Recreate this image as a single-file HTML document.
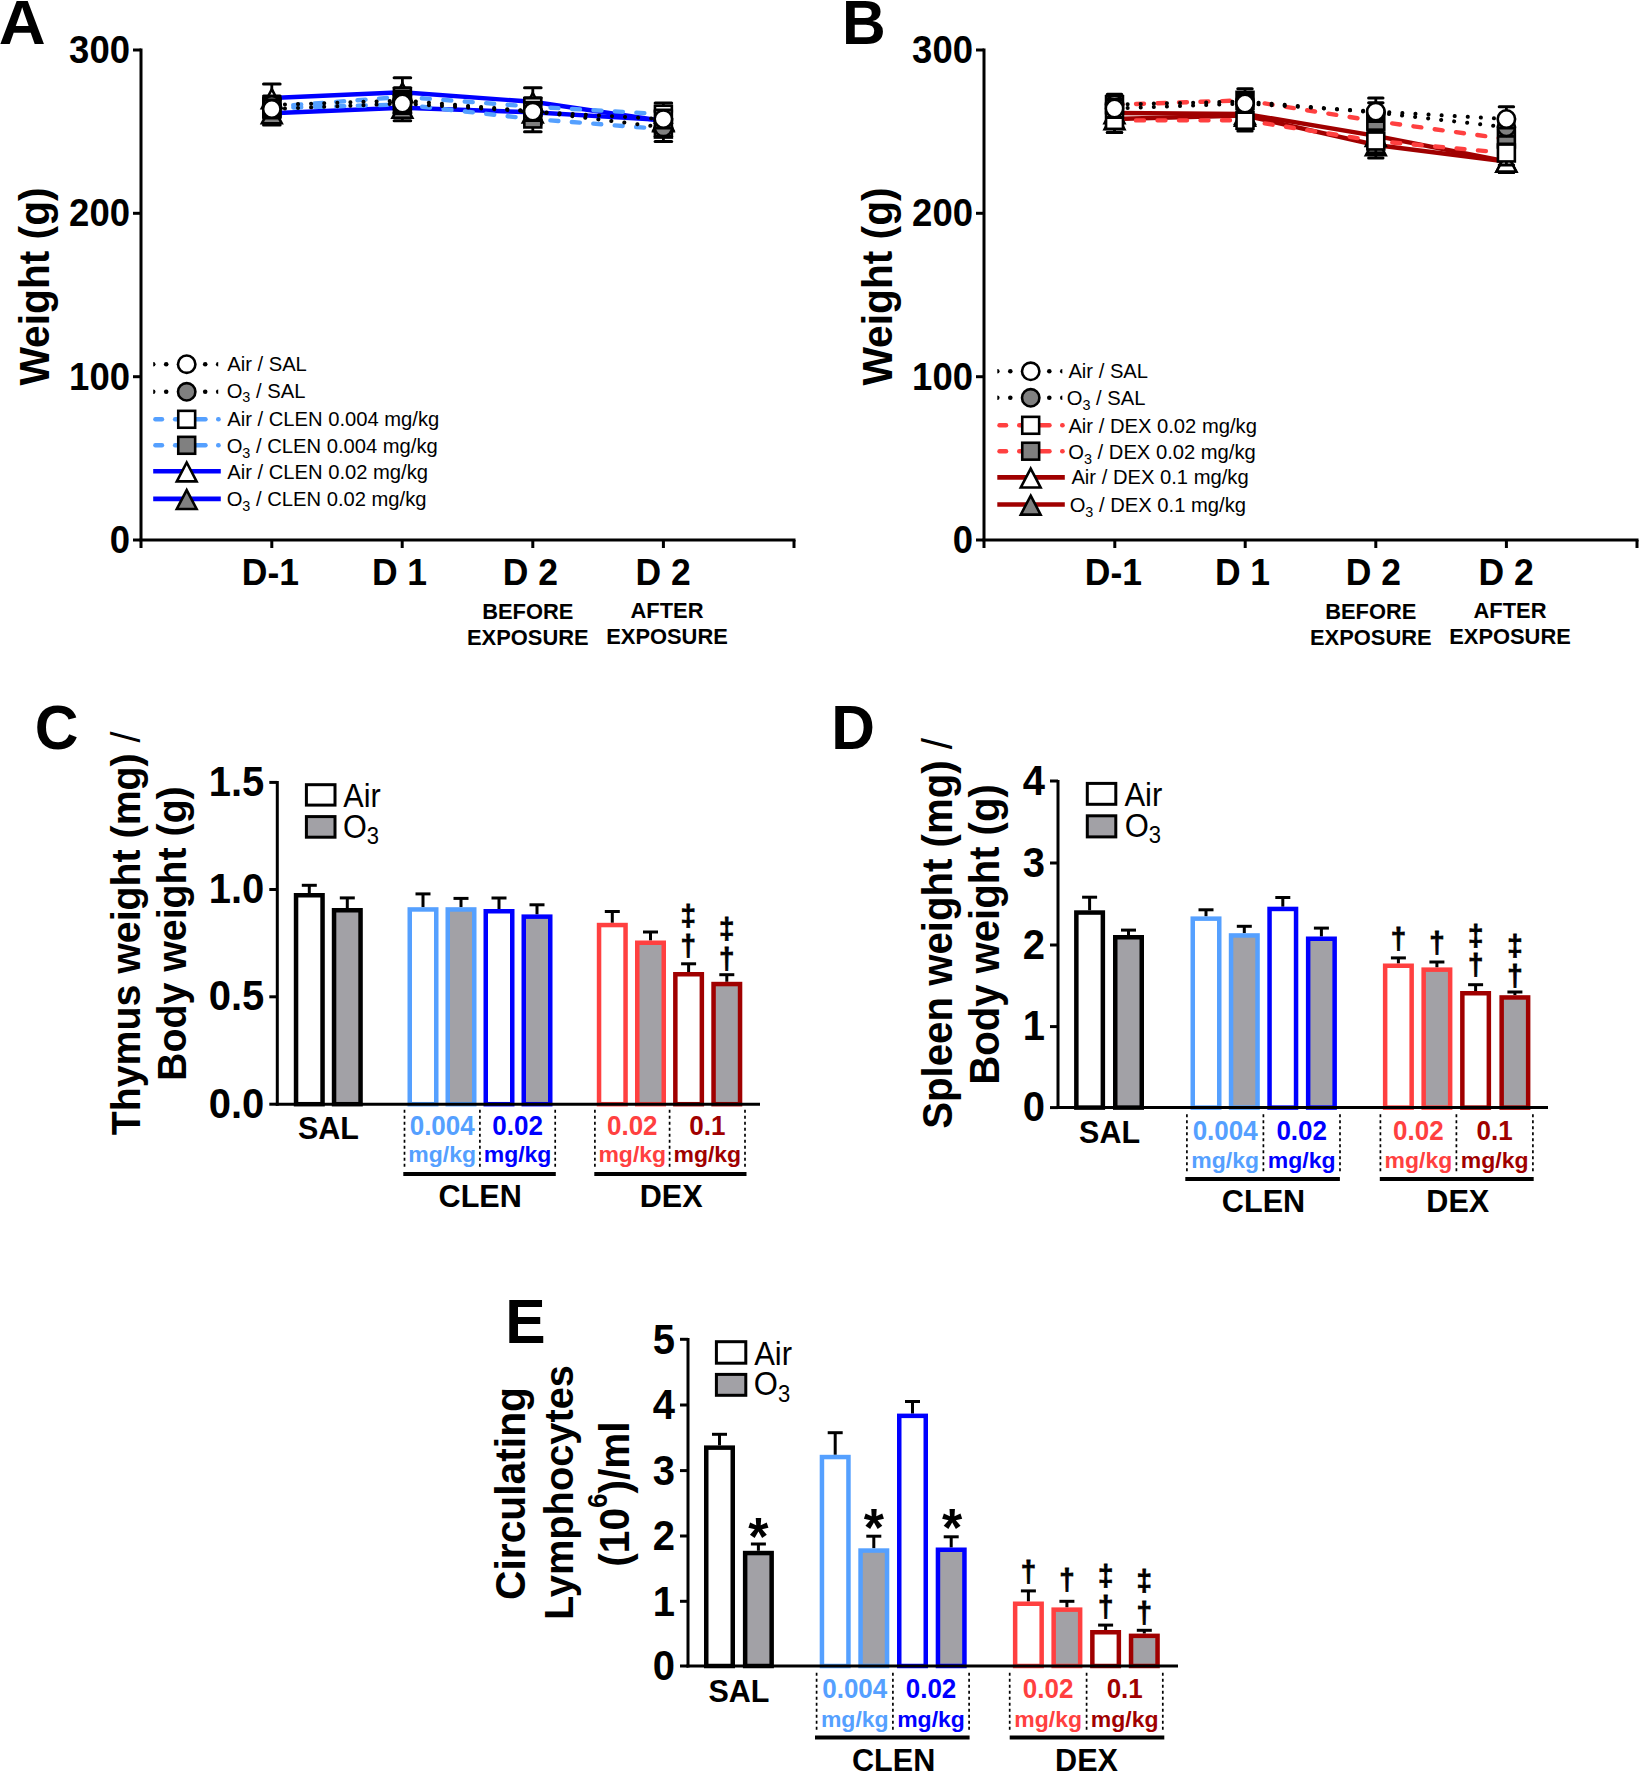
<!DOCTYPE html><html><head><meta charset="utf-8"><title>Figure</title><style>html,body{margin:0;padding:0;background:#fff;overflow:hidden}svg{display:block}text{font-family:"Liberation Sans",Arial,Helvetica,sans-serif}</style></head><body>
<svg width="1639" height="1773" viewBox="0 0 1639 1773">
<rect width="1639" height="1773" fill="#fff"/>
<line x1="141" y1="48.5" x2="141" y2="548" stroke="#000" stroke-width="3" />
<line x1="139.5" y1="540" x2="795.5" y2="540" stroke="#000" stroke-width="3" />
<line x1="133" y1="50" x2="141" y2="50" stroke="#000" stroke-width="3" />
<line x1="133" y1="213.3" x2="141" y2="213.3" stroke="#000" stroke-width="3" />
<line x1="133" y1="376.7" x2="141" y2="376.7" stroke="#000" stroke-width="3" />
<line x1="133" y1="540" x2="141" y2="540" stroke="#000" stroke-width="3" />
<line x1="271.8" y1="540" x2="271.8" y2="548" stroke="#000" stroke-width="3" />
<line x1="402.2" y1="540" x2="402.2" y2="548" stroke="#000" stroke-width="3" />
<line x1="532.8" y1="540" x2="532.8" y2="548" stroke="#000" stroke-width="3" />
<line x1="663.4" y1="540" x2="663.4" y2="548" stroke="#000" stroke-width="3" />
<line x1="794" y1="540" x2="794" y2="548" stroke="#000" stroke-width="3" />
<text transform="translate(130,62.8) scale(1,1.04)" font-size="36.5" font-weight="bold" text-anchor="end">300</text>
<text transform="translate(130,226.1) scale(1,1.04)" font-size="36.5" font-weight="bold" text-anchor="end">200</text>
<text transform="translate(130,389.5) scale(1,1.04)" font-size="36.5" font-weight="bold" text-anchor="end">100</text>
<text transform="translate(130,552.8) scale(1,1.04)" font-size="36.5" font-weight="bold" text-anchor="end">0</text>
<text transform="translate(48.8,286.5) rotate(-90) scale(1,1.04)" font-size="40.7" font-weight="bold" text-anchor="middle">Weight (g)</text>
<text transform="translate(270.4,584.9) scale(1,1.04)" font-size="35.5" font-weight="bold" text-anchor="middle">D-1</text>
<text transform="translate(399.5,584.9) scale(1,1.04)" font-size="35.5" font-weight="bold" text-anchor="middle">D 1</text>
<text transform="translate(530.3,584.9) scale(1,1.04)" font-size="35.5" font-weight="bold" text-anchor="middle">D 2</text>
<text transform="translate(663.2,584.9) scale(1,1.04)" font-size="35.5" font-weight="bold" text-anchor="middle">D 2</text>
<text transform="translate(527.8,619) scale(1,1.04)" font-size="21.9" font-weight="bold" text-anchor="middle">BEFORE</text>
<text transform="translate(527.8,644.8) scale(1,1.04)" font-size="21.9" font-weight="bold" text-anchor="middle">EXPOSURE</text>
<text transform="translate(667,617.6) scale(1,1.04)" font-size="21.9" font-weight="bold" text-anchor="middle">AFTER</text>
<text transform="translate(667,643.5) scale(1,1.04)" font-size="21.9" font-weight="bold" text-anchor="middle">EXPOSURE</text>
<text transform="translate(-1.3,43.9) scale(1,0.97)" font-size="65" font-weight="bold">A</text>
<polyline points="271.8,113.2 402.4,107.7 532.8,112.3 663.4,120.1" stroke="#0000FF" stroke-width="4.4" fill="none"/>
<polyline points="271.8,98 402.4,92.2 532.8,101.8 663.4,121" stroke="#0000FF" stroke-width="4.4" fill="none"/>
<polyline points="271.8,108.1 402.4,104.5 532.8,119 663.4,129.1" stroke="#55A0FF" stroke-width="4.4" stroke-linecap="round" stroke-dasharray="8 13.5" fill="none"/>
<polyline points="271.8,106.8 402.4,96.8 532.8,106.7 663.4,114.2" stroke="#55A0FF" stroke-width="4.4" stroke-linecap="round" stroke-dasharray="8 13.5" fill="none"/>
<polyline points="271.8,105 402.4,100.5 532.8,111.3 663.4,127.4" stroke="#000" stroke-width="4" stroke-linecap="round" stroke-dasharray="0.1 13" fill="none"/>
<polyline points="271.8,109 402.4,103.5 532.8,111.6 663.4,119.1" stroke="#000" stroke-width="4" stroke-linecap="round" stroke-dasharray="0.1 13" fill="none"/>
<line x1="271.8" y1="113.2" x2="271.8" y2="104.2" stroke="#000" stroke-width="2.8" />
<line x1="263.5" y1="104.2" x2="280.1" y2="104.2" stroke="#000" stroke-width="3" stroke-linecap="round"/>
<line x1="271.8" y1="113.2" x2="271.8" y2="125" stroke="#000" stroke-width="2.8" />
<line x1="263.5" y1="125" x2="280.1" y2="125" stroke="#000" stroke-width="3" stroke-linecap="round"/>
<line x1="402.4" y1="107.7" x2="402.4" y2="98.7" stroke="#000" stroke-width="2.8" />
<line x1="394.1" y1="98.7" x2="410.7" y2="98.7" stroke="#000" stroke-width="3" stroke-linecap="round"/>
<line x1="402.4" y1="107.7" x2="402.4" y2="120.7" stroke="#000" stroke-width="2.8" />
<line x1="394.1" y1="120.7" x2="410.7" y2="120.7" stroke="#000" stroke-width="3" stroke-linecap="round"/>
<line x1="532.8" y1="112.3" x2="532.8" y2="103.3" stroke="#000" stroke-width="2.8" />
<line x1="524.5" y1="103.3" x2="541.1" y2="103.3" stroke="#000" stroke-width="3" stroke-linecap="round"/>
<line x1="532.8" y1="112.3" x2="532.8" y2="124.3" stroke="#000" stroke-width="2.8" />
<line x1="524.5" y1="124.3" x2="541.1" y2="124.3" stroke="#000" stroke-width="3" stroke-linecap="round"/>
<line x1="663.4" y1="120.1" x2="663.4" y2="111.1" stroke="#000" stroke-width="2.8" />
<line x1="655.1" y1="111.1" x2="671.7" y2="111.1" stroke="#000" stroke-width="3" stroke-linecap="round"/>
<line x1="663.4" y1="120.1" x2="663.4" y2="132.1" stroke="#000" stroke-width="2.8" />
<line x1="655.1" y1="132.1" x2="671.7" y2="132.1" stroke="#000" stroke-width="3" stroke-linecap="round"/>
<polygon points="271.8,104.4 281.7,123.3 261.9,123.3" fill="#808080" stroke="#000" stroke-width="2.6"/>
<polygon points="402.4,98.9 412.3,117.8 392.5,117.8" fill="#808080" stroke="#000" stroke-width="2.6"/>
<polygon points="532.8,103.5 542.7,122.4 522.9,122.4" fill="#808080" stroke="#000" stroke-width="2.6"/>
<polygon points="663.4,111.3 673.3,130.2 653.5,130.2" fill="#808080" stroke="#000" stroke-width="2.6"/>
<line x1="271.8" y1="98" x2="271.8" y2="84" stroke="#000" stroke-width="2.8" />
<line x1="263.5" y1="84" x2="280.1" y2="84" stroke="#000" stroke-width="3" stroke-linecap="round"/>
<line x1="271.8" y1="98" x2="271.8" y2="107" stroke="#000" stroke-width="2.8" />
<line x1="263.5" y1="107" x2="280.1" y2="107" stroke="#000" stroke-width="3" stroke-linecap="round"/>
<line x1="402.4" y1="92.2" x2="402.4" y2="77.8" stroke="#000" stroke-width="2.8" />
<line x1="394.1" y1="77.8" x2="410.7" y2="77.8" stroke="#000" stroke-width="3" stroke-linecap="round"/>
<line x1="402.4" y1="92.2" x2="402.4" y2="101.2" stroke="#000" stroke-width="2.8" />
<line x1="394.1" y1="101.2" x2="410.7" y2="101.2" stroke="#000" stroke-width="3" stroke-linecap="round"/>
<line x1="532.8" y1="101.8" x2="532.8" y2="87.8" stroke="#000" stroke-width="2.8" />
<line x1="524.5" y1="87.8" x2="541.1" y2="87.8" stroke="#000" stroke-width="3" stroke-linecap="round"/>
<line x1="532.8" y1="101.8" x2="532.8" y2="110.8" stroke="#000" stroke-width="2.8" />
<line x1="524.5" y1="110.8" x2="541.1" y2="110.8" stroke="#000" stroke-width="3" stroke-linecap="round"/>
<line x1="663.4" y1="121" x2="663.4" y2="112" stroke="#000" stroke-width="2.8" />
<line x1="655.1" y1="112" x2="671.7" y2="112" stroke="#000" stroke-width="3" stroke-linecap="round"/>
<line x1="663.4" y1="121" x2="663.4" y2="130" stroke="#000" stroke-width="2.8" />
<line x1="655.1" y1="130" x2="671.7" y2="130" stroke="#000" stroke-width="3" stroke-linecap="round"/>
<polygon points="271.8,89.2 281.7,108.1 261.9,108.1" fill="#fff" stroke="#000" stroke-width="2.6"/>
<polygon points="402.4,83.4 412.3,102.3 392.5,102.3" fill="#fff" stroke="#000" stroke-width="2.6"/>
<polygon points="532.8,93 542.7,111.9 522.9,111.9" fill="#fff" stroke="#000" stroke-width="2.6"/>
<polygon points="663.4,112.2 673.3,131.1 653.5,131.1" fill="#fff" stroke="#000" stroke-width="2.6"/>
<line x1="271.8" y1="108.1" x2="271.8" y2="99.1" stroke="#000" stroke-width="2.8" />
<line x1="263.5" y1="99.1" x2="280.1" y2="99.1" stroke="#000" stroke-width="3" stroke-linecap="round"/>
<line x1="271.8" y1="108.1" x2="271.8" y2="117.1" stroke="#000" stroke-width="2.8" />
<line x1="263.5" y1="117.1" x2="280.1" y2="117.1" stroke="#000" stroke-width="3" stroke-linecap="round"/>
<line x1="402.4" y1="104.5" x2="402.4" y2="95.5" stroke="#000" stroke-width="2.8" />
<line x1="394.1" y1="95.5" x2="410.7" y2="95.5" stroke="#000" stroke-width="3" stroke-linecap="round"/>
<line x1="402.4" y1="104.5" x2="402.4" y2="113.5" stroke="#000" stroke-width="2.8" />
<line x1="394.1" y1="113.5" x2="410.7" y2="113.5" stroke="#000" stroke-width="3" stroke-linecap="round"/>
<line x1="532.8" y1="119" x2="532.8" y2="110" stroke="#000" stroke-width="2.8" />
<line x1="524.5" y1="110" x2="541.1" y2="110" stroke="#000" stroke-width="3" stroke-linecap="round"/>
<line x1="532.8" y1="119" x2="532.8" y2="131.8" stroke="#000" stroke-width="2.8" />
<line x1="524.5" y1="131.8" x2="541.1" y2="131.8" stroke="#000" stroke-width="3" stroke-linecap="round"/>
<line x1="663.4" y1="129.1" x2="663.4" y2="120.1" stroke="#000" stroke-width="2.8" />
<line x1="655.1" y1="120.1" x2="671.7" y2="120.1" stroke="#000" stroke-width="3" stroke-linecap="round"/>
<line x1="663.4" y1="129.1" x2="663.4" y2="141.5" stroke="#000" stroke-width="2.8" />
<line x1="655.1" y1="141.5" x2="671.7" y2="141.5" stroke="#000" stroke-width="3" stroke-linecap="round"/>
<rect x="263.35" y="99.65" width="16.9" height="16.9" fill="#808080" stroke="#000" stroke-width="2.6"/>
<rect x="393.95" y="96.05" width="16.9" height="16.9" fill="#808080" stroke="#000" stroke-width="2.6"/>
<rect x="524.35" y="110.55" width="16.9" height="16.9" fill="#808080" stroke="#000" stroke-width="2.6"/>
<rect x="654.95" y="120.65" width="16.9" height="16.9" fill="#808080" stroke="#000" stroke-width="2.6"/>
<line x1="271.8" y1="106.8" x2="271.8" y2="97.8" stroke="#000" stroke-width="2.8" />
<line x1="263.5" y1="97.8" x2="280.1" y2="97.8" stroke="#000" stroke-width="3" stroke-linecap="round"/>
<line x1="271.8" y1="106.8" x2="271.8" y2="115.8" stroke="#000" stroke-width="2.8" />
<line x1="263.5" y1="115.8" x2="280.1" y2="115.8" stroke="#000" stroke-width="3" stroke-linecap="round"/>
<line x1="402.4" y1="96.8" x2="402.4" y2="87.8" stroke="#000" stroke-width="2.8" />
<line x1="394.1" y1="87.8" x2="410.7" y2="87.8" stroke="#000" stroke-width="3" stroke-linecap="round"/>
<line x1="402.4" y1="96.8" x2="402.4" y2="105.8" stroke="#000" stroke-width="2.8" />
<line x1="394.1" y1="105.8" x2="410.7" y2="105.8" stroke="#000" stroke-width="3" stroke-linecap="round"/>
<line x1="532.8" y1="106.7" x2="532.8" y2="97.7" stroke="#000" stroke-width="2.8" />
<line x1="524.5" y1="97.7" x2="541.1" y2="97.7" stroke="#000" stroke-width="3" stroke-linecap="round"/>
<line x1="532.8" y1="106.7" x2="532.8" y2="115.7" stroke="#000" stroke-width="2.8" />
<line x1="524.5" y1="115.7" x2="541.1" y2="115.7" stroke="#000" stroke-width="3" stroke-linecap="round"/>
<line x1="663.4" y1="114.2" x2="663.4" y2="102.9" stroke="#000" stroke-width="2.8" />
<line x1="655.1" y1="102.9" x2="671.7" y2="102.9" stroke="#000" stroke-width="3" stroke-linecap="round"/>
<line x1="663.4" y1="114.2" x2="663.4" y2="123.2" stroke="#000" stroke-width="2.8" />
<line x1="655.1" y1="123.2" x2="671.7" y2="123.2" stroke="#000" stroke-width="3" stroke-linecap="round"/>
<rect x="263.35" y="98.35" width="16.9" height="16.9" fill="#fff" stroke="#000" stroke-width="2.6"/>
<rect x="393.95" y="88.35" width="16.9" height="16.9" fill="#fff" stroke="#000" stroke-width="2.6"/>
<rect x="524.35" y="98.25" width="16.9" height="16.9" fill="#fff" stroke="#000" stroke-width="2.6"/>
<rect x="654.95" y="105.75" width="16.9" height="16.9" fill="#fff" stroke="#000" stroke-width="2.6"/>
<line x1="271.8" y1="105" x2="271.8" y2="96" stroke="#000" stroke-width="2.8" />
<line x1="263.5" y1="96" x2="280.1" y2="96" stroke="#000" stroke-width="3" stroke-linecap="round"/>
<line x1="271.8" y1="105" x2="271.8" y2="114" stroke="#000" stroke-width="2.8" />
<line x1="263.5" y1="114" x2="280.1" y2="114" stroke="#000" stroke-width="3" stroke-linecap="round"/>
<line x1="402.4" y1="100.5" x2="402.4" y2="91.5" stroke="#000" stroke-width="2.8" />
<line x1="394.1" y1="91.5" x2="410.7" y2="91.5" stroke="#000" stroke-width="3" stroke-linecap="round"/>
<line x1="402.4" y1="100.5" x2="402.4" y2="109.5" stroke="#000" stroke-width="2.8" />
<line x1="394.1" y1="109.5" x2="410.7" y2="109.5" stroke="#000" stroke-width="3" stroke-linecap="round"/>
<line x1="532.8" y1="111.3" x2="532.8" y2="102.3" stroke="#000" stroke-width="2.8" />
<line x1="524.5" y1="102.3" x2="541.1" y2="102.3" stroke="#000" stroke-width="3" stroke-linecap="round"/>
<line x1="532.8" y1="111.3" x2="532.8" y2="120.3" stroke="#000" stroke-width="2.8" />
<line x1="524.5" y1="120.3" x2="541.1" y2="120.3" stroke="#000" stroke-width="3" stroke-linecap="round"/>
<line x1="663.4" y1="127.4" x2="663.4" y2="118.4" stroke="#000" stroke-width="2.8" />
<line x1="655.1" y1="118.4" x2="671.7" y2="118.4" stroke="#000" stroke-width="3" stroke-linecap="round"/>
<line x1="663.4" y1="127.4" x2="663.4" y2="136.4" stroke="#000" stroke-width="2.8" />
<line x1="655.1" y1="136.4" x2="671.7" y2="136.4" stroke="#000" stroke-width="3" stroke-linecap="round"/>
<circle cx="271.8" cy="105" r="8.7" fill="#808080" stroke="#000" stroke-width="2.6"/>
<circle cx="402.4" cy="100.5" r="8.7" fill="#808080" stroke="#000" stroke-width="2.6"/>
<circle cx="532.8" cy="111.3" r="8.7" fill="#808080" stroke="#000" stroke-width="2.6"/>
<circle cx="663.4" cy="127.4" r="8.7" fill="#808080" stroke="#000" stroke-width="2.6"/>
<line x1="271.8" y1="109" x2="271.8" y2="100" stroke="#000" stroke-width="2.8" />
<line x1="263.5" y1="100" x2="280.1" y2="100" stroke="#000" stroke-width="3" stroke-linecap="round"/>
<line x1="271.8" y1="109" x2="271.8" y2="118" stroke="#000" stroke-width="2.8" />
<line x1="263.5" y1="118" x2="280.1" y2="118" stroke="#000" stroke-width="3" stroke-linecap="round"/>
<line x1="402.4" y1="103.5" x2="402.4" y2="94.5" stroke="#000" stroke-width="2.8" />
<line x1="394.1" y1="94.5" x2="410.7" y2="94.5" stroke="#000" stroke-width="3" stroke-linecap="round"/>
<line x1="402.4" y1="103.5" x2="402.4" y2="112.5" stroke="#000" stroke-width="2.8" />
<line x1="394.1" y1="112.5" x2="410.7" y2="112.5" stroke="#000" stroke-width="3" stroke-linecap="round"/>
<line x1="532.8" y1="111.6" x2="532.8" y2="102.6" stroke="#000" stroke-width="2.8" />
<line x1="524.5" y1="102.6" x2="541.1" y2="102.6" stroke="#000" stroke-width="3" stroke-linecap="round"/>
<line x1="532.8" y1="111.6" x2="532.8" y2="120.6" stroke="#000" stroke-width="2.8" />
<line x1="524.5" y1="120.6" x2="541.1" y2="120.6" stroke="#000" stroke-width="3" stroke-linecap="round"/>
<line x1="663.4" y1="119.1" x2="663.4" y2="110.1" stroke="#000" stroke-width="2.8" />
<line x1="655.1" y1="110.1" x2="671.7" y2="110.1" stroke="#000" stroke-width="3" stroke-linecap="round"/>
<line x1="663.4" y1="119.1" x2="663.4" y2="128.1" stroke="#000" stroke-width="2.8" />
<line x1="655.1" y1="128.1" x2="671.7" y2="128.1" stroke="#000" stroke-width="3" stroke-linecap="round"/>
<circle cx="271.8" cy="109" r="8.7" fill="#fff" stroke="#000" stroke-width="2.6"/>
<circle cx="402.4" cy="103.5" r="8.7" fill="#fff" stroke="#000" stroke-width="2.6"/>
<circle cx="532.8" cy="111.6" r="8.7" fill="#fff" stroke="#000" stroke-width="2.6"/>
<circle cx="663.4" cy="119.1" r="8.7" fill="#fff" stroke="#000" stroke-width="2.6"/>
<clipPath id="clpA0"><rect x="153.2" y="360.2" width="65" height="8"/></clipPath>
<g clip-path="url(#clpA0)" fill="#000"><circle cx="153.2" cy="364.2" r="2.3"/><circle cx="166.2" cy="364.2" r="2.3"/><circle cx="179.2" cy="364.2" r="2.3"/><circle cx="192.2" cy="364.2" r="2.3"/><circle cx="205.2" cy="364.2" r="2.3"/><circle cx="218.2" cy="364.2" r="2.3"/></g>
<circle cx="186.7" cy="364.2" r="8.7" fill="#fff" stroke="#000" stroke-width="2.6"/>
<text transform="translate(227.2,370.5) scale(1,1.04)" font-size="20.2">Air / SAL</text>
<clipPath id="clpA1"><rect x="153.2" y="387.8" width="65" height="8"/></clipPath>
<g clip-path="url(#clpA1)" fill="#000"><circle cx="153.2" cy="391.8" r="2.3"/><circle cx="166.2" cy="391.8" r="2.3"/><circle cx="179.2" cy="391.8" r="2.3"/><circle cx="192.2" cy="391.8" r="2.3"/><circle cx="205.2" cy="391.8" r="2.3"/><circle cx="218.2" cy="391.8" r="2.3"/></g>
<circle cx="186.7" cy="391.8" r="8.7" fill="#808080" stroke="#000" stroke-width="2.6"/>
<text transform="translate(226.65,397.7) scale(1,1.04)" font-size="20.2">O<tspan font-size="14.4" dy="4.6">3</tspan><tspan dy="-4.6"> / SAL</tspan></text>
<line x1="155.4" y1="419.3" x2="162" y2="419.3" stroke="#55A0FF" stroke-width="4.4" stroke-linecap="round"/>
<line x1="175.1" y1="419.3" x2="184.5" y2="419.3" stroke="#55A0FF" stroke-width="4.4" stroke-linecap="round"/>
<line x1="188.9" y1="419.3" x2="205.5" y2="419.3" stroke="#55A0FF" stroke-width="4.4" stroke-linecap="round"/>
<line x1="218.2" y1="419.3" x2="218.6" y2="419.3" stroke="#55A0FF" stroke-width="4.4" stroke-linecap="round"/>
<rect x="178.25" y="410.85" width="16.9" height="16.9" fill="#fff" stroke="#000" stroke-width="2.6"/>
<text transform="translate(227.2,426.1) scale(1,1.04)" font-size="20.2">Air / CLEN 0.004 mg/kg</text>
<line x1="155.4" y1="445.3" x2="162" y2="445.3" stroke="#55A0FF" stroke-width="4.4" stroke-linecap="round"/>
<line x1="175.1" y1="445.3" x2="184.5" y2="445.3" stroke="#55A0FF" stroke-width="4.4" stroke-linecap="round"/>
<line x1="188.9" y1="445.3" x2="205.5" y2="445.3" stroke="#55A0FF" stroke-width="4.4" stroke-linecap="round"/>
<line x1="218.2" y1="445.3" x2="218.6" y2="445.3" stroke="#55A0FF" stroke-width="4.4" stroke-linecap="round"/>
<rect x="178.25" y="436.85" width="16.9" height="16.9" fill="#808080" stroke="#000" stroke-width="2.6"/>
<text transform="translate(226.65,453.2) scale(1,1.04)" font-size="20.2">O<tspan font-size="14.4" dy="4.6">3</tspan><tspan dy="-4.6"> / CLEN 0.004 mg/kg</tspan></text>
<line x1="153.2" y1="471.3" x2="220.8" y2="471.3" stroke="#0000FF" stroke-width="4.6" />
<polygon points="186.7,462.5 196.6,481.4 176.8,481.4" fill="#fff" stroke="#000" stroke-width="2.6"/>
<text transform="translate(227.2,478.7) scale(1,1.04)" font-size="20.2">Air / CLEN 0.02 mg/kg</text>
<line x1="153.2" y1="498.9" x2="220.8" y2="498.9" stroke="#0000FF" stroke-width="4.6" />
<polygon points="186.7,490.1 196.6,509 176.8,509" fill="#808080" stroke="#000" stroke-width="2.6"/>
<text transform="translate(226.65,506.1) scale(1,1.04)" font-size="20.2">O<tspan font-size="14.4" dy="4.6">3</tspan><tspan dy="-4.6"> / CLEN 0.02 mg/kg</tspan></text>
<line x1="984" y1="48.5" x2="984" y2="548" stroke="#000" stroke-width="3" />
<line x1="982.5" y1="540" x2="1638.5" y2="540" stroke="#000" stroke-width="3" />
<line x1="976" y1="50" x2="984" y2="50" stroke="#000" stroke-width="3" />
<line x1="976" y1="213.3" x2="984" y2="213.3" stroke="#000" stroke-width="3" />
<line x1="976" y1="376.7" x2="984" y2="376.7" stroke="#000" stroke-width="3" />
<line x1="976" y1="540" x2="984" y2="540" stroke="#000" stroke-width="3" />
<line x1="1114.8" y1="540" x2="1114.8" y2="548" stroke="#000" stroke-width="3" />
<line x1="1245.2" y1="540" x2="1245.2" y2="548" stroke="#000" stroke-width="3" />
<line x1="1375.8" y1="540" x2="1375.8" y2="548" stroke="#000" stroke-width="3" />
<line x1="1506.4" y1="540" x2="1506.4" y2="548" stroke="#000" stroke-width="3" />
<line x1="1637" y1="540" x2="1637" y2="548" stroke="#000" stroke-width="3" />
<text transform="translate(973,62.8) scale(1,1.04)" font-size="36.5" font-weight="bold" text-anchor="end">300</text>
<text transform="translate(973,226.1) scale(1,1.04)" font-size="36.5" font-weight="bold" text-anchor="end">200</text>
<text transform="translate(973,389.5) scale(1,1.04)" font-size="36.5" font-weight="bold" text-anchor="end">100</text>
<text transform="translate(973,552.8) scale(1,1.04)" font-size="36.5" font-weight="bold" text-anchor="end">0</text>
<text transform="translate(891.8,286.5) rotate(-90) scale(1,1.04)" font-size="40.7" font-weight="bold" text-anchor="middle">Weight (g)</text>
<text transform="translate(1113.4,584.9) scale(1,1.04)" font-size="35.5" font-weight="bold" text-anchor="middle">D-1</text>
<text transform="translate(1242.5,584.9) scale(1,1.04)" font-size="35.5" font-weight="bold" text-anchor="middle">D 1</text>
<text transform="translate(1373.3,584.9) scale(1,1.04)" font-size="35.5" font-weight="bold" text-anchor="middle">D 2</text>
<text transform="translate(1506.2,584.9) scale(1,1.04)" font-size="35.5" font-weight="bold" text-anchor="middle">D 2</text>
<text transform="translate(1370.8,619) scale(1,1.04)" font-size="21.9" font-weight="bold" text-anchor="middle">BEFORE</text>
<text transform="translate(1370.8,644.8) scale(1,1.04)" font-size="21.9" font-weight="bold" text-anchor="middle">EXPOSURE</text>
<text transform="translate(1510,617.6) scale(1,1.04)" font-size="21.9" font-weight="bold" text-anchor="middle">AFTER</text>
<text transform="translate(1510,643.5) scale(1,1.04)" font-size="21.9" font-weight="bold" text-anchor="middle">EXPOSURE</text>
<text transform="translate(841.9,43.9) scale(1,1.04)" font-size="60.5" font-weight="bold">B</text>
<polyline points="1114.5,119 1245,115.5 1375.8,145 1506.4,161.5" stroke="#A00000" stroke-width="4.4" fill="none"/>
<polyline points="1114.5,113 1245,113.9 1375.8,135.8 1506.4,161.5" stroke="#A00000" stroke-width="4.4" fill="none"/>
<polyline points="1114.5,104.7 1245,100.3 1375.8,121.2 1506.4,139" stroke="#FF4040" stroke-width="4.4" stroke-linecap="round" stroke-dasharray="8 13.5" fill="none"/>
<polyline points="1114.5,120.4 1245,120.3 1375.8,141 1506.4,153" stroke="#FF4040" stroke-width="4.4" stroke-linecap="round" stroke-dasharray="8 13.5" fill="none"/>
<polyline points="1114.5,104.5 1245,101.5 1375.8,112.5 1506.4,127.3" stroke="#000" stroke-width="4" stroke-linecap="round" stroke-dasharray="0.1 13" fill="none"/>
<polyline points="1114.5,108.5 1245,103.5 1375.8,111.6 1506.4,119" stroke="#000" stroke-width="4" stroke-linecap="round" stroke-dasharray="0.1 13" fill="none"/>
<line x1="1114.5" y1="119" x2="1114.5" y2="110" stroke="#000" stroke-width="2.8" />
<line x1="1107.3" y1="110" x2="1121.7" y2="110" stroke="#000" stroke-width="3" stroke-linecap="round"/>
<line x1="1114.5" y1="119" x2="1114.5" y2="132.5" stroke="#000" stroke-width="2.8" />
<line x1="1107.3" y1="132.5" x2="1121.7" y2="132.5" stroke="#000" stroke-width="3" stroke-linecap="round"/>
<line x1="1245" y1="115.5" x2="1245" y2="106.5" stroke="#000" stroke-width="2.8" />
<line x1="1237.8" y1="106.5" x2="1252.2" y2="106.5" stroke="#000" stroke-width="3" stroke-linecap="round"/>
<line x1="1245" y1="115.5" x2="1245" y2="127.5" stroke="#000" stroke-width="2.8" />
<line x1="1237.8" y1="127.5" x2="1252.2" y2="127.5" stroke="#000" stroke-width="3" stroke-linecap="round"/>
<line x1="1375.8" y1="145" x2="1375.8" y2="136" stroke="#000" stroke-width="2.8" />
<line x1="1368.6" y1="136" x2="1383" y2="136" stroke="#000" stroke-width="3" stroke-linecap="round"/>
<line x1="1375.8" y1="145" x2="1375.8" y2="158" stroke="#000" stroke-width="2.8" />
<line x1="1368.6" y1="158" x2="1383" y2="158" stroke="#000" stroke-width="3" stroke-linecap="round"/>
<line x1="1506.4" y1="161.5" x2="1506.4" y2="152.5" stroke="#000" stroke-width="2.8" />
<line x1="1499.2" y1="152.5" x2="1513.6" y2="152.5" stroke="#000" stroke-width="3" stroke-linecap="round"/>
<line x1="1506.4" y1="161.5" x2="1506.4" y2="172.5" stroke="#000" stroke-width="2.8" />
<line x1="1499.2" y1="172.5" x2="1513.6" y2="172.5" stroke="#000" stroke-width="3" stroke-linecap="round"/>
<polygon points="1114.5,110.2 1124.4,129.1 1104.6,129.1" fill="#808080" stroke="#000" stroke-width="2.6"/>
<polygon points="1245,106.7 1254.9,125.6 1235.1,125.6" fill="#808080" stroke="#000" stroke-width="2.6"/>
<polygon points="1375.8,136.2 1385.7,155.1 1365.9,155.1" fill="#808080" stroke="#000" stroke-width="2.6"/>
<polygon points="1506.4,152.7 1516.3,171.6 1496.5,171.6" fill="#808080" stroke="#000" stroke-width="2.6"/>
<line x1="1114.5" y1="113" x2="1114.5" y2="104" stroke="#000" stroke-width="2.8" />
<line x1="1107.3" y1="104" x2="1121.7" y2="104" stroke="#000" stroke-width="3" stroke-linecap="round"/>
<line x1="1114.5" y1="113" x2="1114.5" y2="125" stroke="#000" stroke-width="2.8" />
<line x1="1107.3" y1="125" x2="1121.7" y2="125" stroke="#000" stroke-width="3" stroke-linecap="round"/>
<line x1="1245" y1="113.9" x2="1245" y2="104.9" stroke="#000" stroke-width="2.8" />
<line x1="1237.8" y1="104.9" x2="1252.2" y2="104.9" stroke="#000" stroke-width="3" stroke-linecap="round"/>
<line x1="1245" y1="113.9" x2="1245" y2="125.9" stroke="#000" stroke-width="2.8" />
<line x1="1237.8" y1="125.9" x2="1252.2" y2="125.9" stroke="#000" stroke-width="3" stroke-linecap="round"/>
<line x1="1375.8" y1="135.8" x2="1375.8" y2="126.8" stroke="#000" stroke-width="2.8" />
<line x1="1368.6" y1="126.8" x2="1383" y2="126.8" stroke="#000" stroke-width="3" stroke-linecap="round"/>
<line x1="1375.8" y1="135.8" x2="1375.8" y2="147.8" stroke="#000" stroke-width="2.8" />
<line x1="1368.6" y1="147.8" x2="1383" y2="147.8" stroke="#000" stroke-width="3" stroke-linecap="round"/>
<line x1="1506.4" y1="161.5" x2="1506.4" y2="152.5" stroke="#000" stroke-width="2.8" />
<line x1="1499.2" y1="152.5" x2="1513.6" y2="152.5" stroke="#000" stroke-width="3" stroke-linecap="round"/>
<line x1="1506.4" y1="161.5" x2="1506.4" y2="172.5" stroke="#000" stroke-width="2.8" />
<line x1="1499.2" y1="172.5" x2="1513.6" y2="172.5" stroke="#000" stroke-width="3" stroke-linecap="round"/>
<polygon points="1114.5,104.2 1124.4,123.1 1104.6,123.1" fill="#fff" stroke="#000" stroke-width="2.6"/>
<polygon points="1245,105.1 1254.9,124 1235.1,124" fill="#fff" stroke="#000" stroke-width="2.6"/>
<polygon points="1375.8,127 1385.7,145.9 1365.9,145.9" fill="#fff" stroke="#000" stroke-width="2.6"/>
<polygon points="1506.4,152.7 1516.3,171.6 1496.5,171.6" fill="#fff" stroke="#000" stroke-width="2.6"/>
<line x1="1114.5" y1="104.7" x2="1114.5" y2="94.2" stroke="#000" stroke-width="2.8" />
<line x1="1107.3" y1="94.2" x2="1121.7" y2="94.2" stroke="#000" stroke-width="3" stroke-linecap="round"/>
<line x1="1114.5" y1="104.7" x2="1114.5" y2="113.7" stroke="#000" stroke-width="2.8" />
<line x1="1107.3" y1="113.7" x2="1121.7" y2="113.7" stroke="#000" stroke-width="3" stroke-linecap="round"/>
<line x1="1245" y1="100.3" x2="1245" y2="88.8" stroke="#000" stroke-width="2.8" />
<line x1="1237.8" y1="88.8" x2="1252.2" y2="88.8" stroke="#000" stroke-width="3" stroke-linecap="round"/>
<line x1="1245" y1="100.3" x2="1245" y2="109.3" stroke="#000" stroke-width="2.8" />
<line x1="1237.8" y1="109.3" x2="1252.2" y2="109.3" stroke="#000" stroke-width="3" stroke-linecap="round"/>
<line x1="1375.8" y1="121.2" x2="1375.8" y2="112.2" stroke="#000" stroke-width="2.8" />
<line x1="1368.6" y1="112.2" x2="1383" y2="112.2" stroke="#000" stroke-width="3" stroke-linecap="round"/>
<line x1="1375.8" y1="121.2" x2="1375.8" y2="130.2" stroke="#000" stroke-width="2.8" />
<line x1="1368.6" y1="130.2" x2="1383" y2="130.2" stroke="#000" stroke-width="3" stroke-linecap="round"/>
<line x1="1506.4" y1="139" x2="1506.4" y2="130" stroke="#000" stroke-width="2.8" />
<line x1="1499.2" y1="130" x2="1513.6" y2="130" stroke="#000" stroke-width="3" stroke-linecap="round"/>
<line x1="1506.4" y1="139" x2="1506.4" y2="148" stroke="#000" stroke-width="2.8" />
<line x1="1499.2" y1="148" x2="1513.6" y2="148" stroke="#000" stroke-width="3" stroke-linecap="round"/>
<rect x="1106.05" y="96.25" width="16.9" height="16.9" fill="#808080" stroke="#000" stroke-width="2.6"/>
<rect x="1236.55" y="91.85" width="16.9" height="16.9" fill="#808080" stroke="#000" stroke-width="2.6"/>
<rect x="1367.35" y="112.75" width="16.9" height="16.9" fill="#808080" stroke="#000" stroke-width="2.6"/>
<rect x="1497.95" y="130.55" width="16.9" height="16.9" fill="#808080" stroke="#000" stroke-width="2.6"/>
<line x1="1114.5" y1="120.4" x2="1114.5" y2="111.4" stroke="#000" stroke-width="2.8" />
<line x1="1107.3" y1="111.4" x2="1121.7" y2="111.4" stroke="#000" stroke-width="3" stroke-linecap="round"/>
<line x1="1114.5" y1="120.4" x2="1114.5" y2="132.4" stroke="#000" stroke-width="2.8" />
<line x1="1107.3" y1="132.4" x2="1121.7" y2="132.4" stroke="#000" stroke-width="3" stroke-linecap="round"/>
<line x1="1245" y1="120.3" x2="1245" y2="111.3" stroke="#000" stroke-width="2.8" />
<line x1="1237.8" y1="111.3" x2="1252.2" y2="111.3" stroke="#000" stroke-width="3" stroke-linecap="round"/>
<line x1="1245" y1="120.3" x2="1245" y2="130.9" stroke="#000" stroke-width="2.8" />
<line x1="1237.8" y1="130.9" x2="1252.2" y2="130.9" stroke="#000" stroke-width="3" stroke-linecap="round"/>
<line x1="1375.8" y1="141" x2="1375.8" y2="132" stroke="#000" stroke-width="2.8" />
<line x1="1368.6" y1="132" x2="1383" y2="132" stroke="#000" stroke-width="3" stroke-linecap="round"/>
<line x1="1375.8" y1="141" x2="1375.8" y2="153" stroke="#000" stroke-width="2.8" />
<line x1="1368.6" y1="153" x2="1383" y2="153" stroke="#000" stroke-width="3" stroke-linecap="round"/>
<line x1="1506.4" y1="153" x2="1506.4" y2="144" stroke="#000" stroke-width="2.8" />
<line x1="1499.2" y1="144" x2="1513.6" y2="144" stroke="#000" stroke-width="3" stroke-linecap="round"/>
<line x1="1506.4" y1="153" x2="1506.4" y2="165" stroke="#000" stroke-width="2.8" />
<line x1="1499.2" y1="165" x2="1513.6" y2="165" stroke="#000" stroke-width="3" stroke-linecap="round"/>
<rect x="1106.05" y="111.95" width="16.9" height="16.9" fill="#fff" stroke="#000" stroke-width="2.6"/>
<rect x="1236.55" y="111.85" width="16.9" height="16.9" fill="#fff" stroke="#000" stroke-width="2.6"/>
<rect x="1367.35" y="132.55" width="16.9" height="16.9" fill="#fff" stroke="#000" stroke-width="2.6"/>
<rect x="1497.95" y="144.55" width="16.9" height="16.9" fill="#fff" stroke="#000" stroke-width="2.6"/>
<line x1="1114.5" y1="104.5" x2="1114.5" y2="95.5" stroke="#000" stroke-width="2.8" />
<line x1="1107.3" y1="95.5" x2="1121.7" y2="95.5" stroke="#000" stroke-width="3" stroke-linecap="round"/>
<line x1="1114.5" y1="104.5" x2="1114.5" y2="113.5" stroke="#000" stroke-width="2.8" />
<line x1="1107.3" y1="113.5" x2="1121.7" y2="113.5" stroke="#000" stroke-width="3" stroke-linecap="round"/>
<line x1="1245" y1="101.5" x2="1245" y2="92.5" stroke="#000" stroke-width="2.8" />
<line x1="1237.8" y1="92.5" x2="1252.2" y2="92.5" stroke="#000" stroke-width="3" stroke-linecap="round"/>
<line x1="1245" y1="101.5" x2="1245" y2="110.5" stroke="#000" stroke-width="2.8" />
<line x1="1237.8" y1="110.5" x2="1252.2" y2="110.5" stroke="#000" stroke-width="3" stroke-linecap="round"/>
<line x1="1375.8" y1="112.5" x2="1375.8" y2="102.8" stroke="#000" stroke-width="2.8" />
<line x1="1368.6" y1="102.8" x2="1383" y2="102.8" stroke="#000" stroke-width="3" stroke-linecap="round"/>
<line x1="1375.8" y1="112.5" x2="1375.8" y2="121.5" stroke="#000" stroke-width="2.8" />
<line x1="1368.6" y1="121.5" x2="1383" y2="121.5" stroke="#000" stroke-width="3" stroke-linecap="round"/>
<line x1="1506.4" y1="127.3" x2="1506.4" y2="118.3" stroke="#000" stroke-width="2.8" />
<line x1="1499.2" y1="118.3" x2="1513.6" y2="118.3" stroke="#000" stroke-width="3" stroke-linecap="round"/>
<line x1="1506.4" y1="127.3" x2="1506.4" y2="136.3" stroke="#000" stroke-width="2.8" />
<line x1="1499.2" y1="136.3" x2="1513.6" y2="136.3" stroke="#000" stroke-width="3" stroke-linecap="round"/>
<circle cx="1114.5" cy="104.5" r="8.7" fill="#808080" stroke="#000" stroke-width="2.6"/>
<circle cx="1245" cy="101.5" r="8.7" fill="#808080" stroke="#000" stroke-width="2.6"/>
<circle cx="1375.8" cy="112.5" r="8.7" fill="#808080" stroke="#000" stroke-width="2.6"/>
<circle cx="1506.4" cy="127.3" r="8.7" fill="#808080" stroke="#000" stroke-width="2.6"/>
<line x1="1114.5" y1="108.5" x2="1114.5" y2="99.5" stroke="#000" stroke-width="2.8" />
<line x1="1107.3" y1="99.5" x2="1121.7" y2="99.5" stroke="#000" stroke-width="3" stroke-linecap="round"/>
<line x1="1114.5" y1="108.5" x2="1114.5" y2="117.5" stroke="#000" stroke-width="2.8" />
<line x1="1107.3" y1="117.5" x2="1121.7" y2="117.5" stroke="#000" stroke-width="3" stroke-linecap="round"/>
<line x1="1245" y1="103.5" x2="1245" y2="94.5" stroke="#000" stroke-width="2.8" />
<line x1="1237.8" y1="94.5" x2="1252.2" y2="94.5" stroke="#000" stroke-width="3" stroke-linecap="round"/>
<line x1="1245" y1="103.5" x2="1245" y2="112.5" stroke="#000" stroke-width="2.8" />
<line x1="1237.8" y1="112.5" x2="1252.2" y2="112.5" stroke="#000" stroke-width="3" stroke-linecap="round"/>
<line x1="1375.8" y1="111.6" x2="1375.8" y2="98.1" stroke="#000" stroke-width="2.8" />
<line x1="1368.6" y1="98.1" x2="1383" y2="98.1" stroke="#000" stroke-width="3" stroke-linecap="round"/>
<line x1="1375.8" y1="111.6" x2="1375.8" y2="120.6" stroke="#000" stroke-width="2.8" />
<line x1="1368.6" y1="120.6" x2="1383" y2="120.6" stroke="#000" stroke-width="3" stroke-linecap="round"/>
<line x1="1506.4" y1="119" x2="1506.4" y2="106.7" stroke="#000" stroke-width="2.8" />
<line x1="1499.2" y1="106.7" x2="1513.6" y2="106.7" stroke="#000" stroke-width="3" stroke-linecap="round"/>
<line x1="1506.4" y1="119" x2="1506.4" y2="128" stroke="#000" stroke-width="2.8" />
<line x1="1499.2" y1="128" x2="1513.6" y2="128" stroke="#000" stroke-width="3" stroke-linecap="round"/>
<circle cx="1114.5" cy="108.5" r="8.7" fill="#fff" stroke="#000" stroke-width="2.6"/>
<circle cx="1245" cy="103.5" r="8.7" fill="#fff" stroke="#000" stroke-width="2.6"/>
<circle cx="1375.8" cy="111.6" r="8.7" fill="#fff" stroke="#000" stroke-width="2.6"/>
<circle cx="1506.4" cy="119" r="8.7" fill="#fff" stroke="#000" stroke-width="2.6"/>
<clipPath id="clpB0"><rect x="997.3" y="367.3" width="65" height="8"/></clipPath>
<g clip-path="url(#clpB0)" fill="#000"><circle cx="997.3" cy="371.3" r="2.3"/><circle cx="1010.3" cy="371.3" r="2.3"/><circle cx="1023.3" cy="371.3" r="2.3"/><circle cx="1036.3" cy="371.3" r="2.3"/><circle cx="1049.3" cy="371.3" r="2.3"/><circle cx="1062.3" cy="371.3" r="2.3"/></g>
<circle cx="1030.7" cy="371.3" r="8.7" fill="#fff" stroke="#000" stroke-width="2.6"/>
<text transform="translate(1068.4,377.9) scale(1,1.04)" font-size="20.2">Air / SAL</text>
<clipPath id="clpB1"><rect x="997.3" y="393.8" width="65" height="8"/></clipPath>
<g clip-path="url(#clpB1)" fill="#000"><circle cx="997.3" cy="397.8" r="2.3"/><circle cx="1010.3" cy="397.8" r="2.3"/><circle cx="1023.3" cy="397.8" r="2.3"/><circle cx="1036.3" cy="397.8" r="2.3"/><circle cx="1049.3" cy="397.8" r="2.3"/><circle cx="1062.3" cy="397.8" r="2.3"/></g>
<circle cx="1030.7" cy="397.8" r="8.7" fill="#808080" stroke="#000" stroke-width="2.6"/>
<text transform="translate(1066.75,405.4) scale(1,1.04)" font-size="20.2">O<tspan font-size="14.4" dy="4.6">3</tspan><tspan dy="-4.6"> / SAL</tspan></text>
<line x1="999.5" y1="425.3" x2="1006.1" y2="425.3" stroke="#FF4040" stroke-width="4.4" stroke-linecap="round"/>
<line x1="1019.2" y1="425.3" x2="1028.5" y2="425.3" stroke="#FF4040" stroke-width="4.4" stroke-linecap="round"/>
<line x1="1032.9" y1="425.3" x2="1049.5" y2="425.3" stroke="#FF4040" stroke-width="4.4" stroke-linecap="round"/>
<line x1="1062.2" y1="425.3" x2="1062.6" y2="425.3" stroke="#FF4040" stroke-width="4.4" stroke-linecap="round"/>
<rect x="1022.25" y="416.85" width="16.9" height="16.9" fill="#fff" stroke="#000" stroke-width="2.6"/>
<text transform="translate(1068.4,433) scale(1,1.04)" font-size="20.2">Air / DEX 0.02 mg/kg</text>
<line x1="999.5" y1="451.2" x2="1006.1" y2="451.2" stroke="#FF4040" stroke-width="4.4" stroke-linecap="round"/>
<line x1="1019.2" y1="451.2" x2="1028.5" y2="451.2" stroke="#FF4040" stroke-width="4.4" stroke-linecap="round"/>
<line x1="1032.9" y1="451.2" x2="1049.5" y2="451.2" stroke="#FF4040" stroke-width="4.4" stroke-linecap="round"/>
<line x1="1062.2" y1="451.2" x2="1062.6" y2="451.2" stroke="#FF4040" stroke-width="4.4" stroke-linecap="round"/>
<rect x="1022.25" y="442.75" width="16.9" height="16.9" fill="#808080" stroke="#000" stroke-width="2.6"/>
<text transform="translate(1068.25,459) scale(1,1.04)" font-size="20.2">O<tspan font-size="14.4" dy="4.6">3</tspan><tspan dy="-4.6"> / DEX 0.02 mg/kg</tspan></text>
<line x1="997.3" y1="477.4" x2="1064.8" y2="477.4" stroke="#A00000" stroke-width="4.6" />
<polygon points="1030.7,468.6 1040.6,487.5 1020.8,487.5" fill="#fff" stroke="#000" stroke-width="2.6"/>
<text transform="translate(1071.4,484.3) scale(1,1.04)" font-size="20.2">Air / DEX 0.1 mg/kg</text>
<line x1="997.3" y1="504.5" x2="1064.8" y2="504.5" stroke="#A00000" stroke-width="4.6" />
<polygon points="1030.7,495.7 1040.6,514.6 1020.8,514.6" fill="#808080" stroke="#000" stroke-width="2.6"/>
<text transform="translate(1069.65,512.1) scale(1,1.04)" font-size="20.2">O<tspan font-size="14.4" dy="4.6">3</tspan><tspan dy="-4.6"> / DEX 0.1 mg/kg</tspan></text>
<line x1="309.3" y1="893" x2="309.3" y2="885.3" stroke="#000" stroke-width="3" />
<line x1="301.8" y1="885.3" x2="316.8" y2="885.3" stroke="#000" stroke-width="3" />
<rect x="296.05" y="895.25" width="26.5" height="208.95" fill="#fff" stroke="#000" stroke-width="4.5"/>
<line x1="347.3" y1="908" x2="347.3" y2="897.9" stroke="#000" stroke-width="3" />
<line x1="339.8" y1="897.9" x2="354.8" y2="897.9" stroke="#000" stroke-width="3" />
<rect x="334.05" y="910.25" width="26.5" height="193.95" fill="#A2A1A6" stroke="#000" stroke-width="4.5"/>
<line x1="423" y1="907.2" x2="423" y2="893.9" stroke="#000" stroke-width="3" />
<line x1="415.5" y1="893.9" x2="430.5" y2="893.9" stroke="#000" stroke-width="3" />
<rect x="409.75" y="909.45" width="26.5" height="194.75" fill="#fff" stroke="#55A0FF" stroke-width="4.5"/>
<line x1="461" y1="907.2" x2="461" y2="898.4" stroke="#000" stroke-width="3" />
<line x1="453.5" y1="898.4" x2="468.5" y2="898.4" stroke="#000" stroke-width="3" />
<rect x="447.75" y="909.45" width="26.5" height="194.75" fill="#A2A1A6" stroke="#55A0FF" stroke-width="4.5"/>
<line x1="499" y1="909" x2="499" y2="898" stroke="#000" stroke-width="3" />
<line x1="491.5" y1="898" x2="506.5" y2="898" stroke="#000" stroke-width="3" />
<rect x="485.75" y="911.25" width="26.5" height="192.95" fill="#fff" stroke="#0000FF" stroke-width="4.5"/>
<line x1="537" y1="914.4" x2="537" y2="904.8" stroke="#000" stroke-width="3" />
<line x1="529.5" y1="904.8" x2="544.5" y2="904.8" stroke="#000" stroke-width="3" />
<rect x="523.75" y="916.65" width="26.5" height="187.55" fill="#A2A1A6" stroke="#0000FF" stroke-width="4.5"/>
<line x1="612.3" y1="922.8" x2="612.3" y2="911.5" stroke="#000" stroke-width="3" />
<line x1="604.8" y1="911.5" x2="619.8" y2="911.5" stroke="#000" stroke-width="3" />
<rect x="599.05" y="925.05" width="26.5" height="179.15" fill="#fff" stroke="#FF4040" stroke-width="4.5"/>
<line x1="650.5" y1="940.5" x2="650.5" y2="932" stroke="#000" stroke-width="3" />
<line x1="643" y1="932" x2="658" y2="932" stroke="#000" stroke-width="3" />
<rect x="637.25" y="942.75" width="26.5" height="161.45" fill="#A2A1A6" stroke="#FF4040" stroke-width="4.5"/>
<line x1="688.6" y1="972" x2="688.6" y2="963.8" stroke="#000" stroke-width="3" />
<line x1="681.1" y1="963.8" x2="696.1" y2="963.8" stroke="#000" stroke-width="3" />
<rect x="675.35" y="974.25" width="26.5" height="129.95" fill="#fff" stroke="#A00000" stroke-width="4.5"/>
<line x1="726.8" y1="981.8" x2="726.8" y2="974.7" stroke="#000" stroke-width="3" />
<line x1="719.3" y1="974.7" x2="734.3" y2="974.7" stroke="#000" stroke-width="3" />
<rect x="713.55" y="984.05" width="26.5" height="120.15" fill="#A2A1A6" stroke="#A00000" stroke-width="4.5"/>
<line x1="277.3" y1="781" x2="277.3" y2="1105.7" stroke="#000" stroke-width="3" />
<line x1="275.8" y1="1104.2" x2="760" y2="1104.2" stroke="#000" stroke-width="3" />
<line x1="269.3" y1="782.4" x2="277.3" y2="782.4" stroke="#000" stroke-width="3" />
<text transform="translate(264.3,795.71) scale(1,1.04)" font-size="40" font-weight="bold" text-anchor="end">1.5</text>
<line x1="269.3" y1="889.5" x2="277.3" y2="889.5" stroke="#000" stroke-width="3" />
<text transform="translate(264.3,902.81) scale(1,1.04)" font-size="40" font-weight="bold" text-anchor="end">1.0</text>
<line x1="269.3" y1="996.8" x2="277.3" y2="996.8" stroke="#000" stroke-width="3" />
<text transform="translate(264.3,1010.11) scale(1,1.04)" font-size="40" font-weight="bold" text-anchor="end">0.5</text>
<line x1="269.3" y1="1104.2" x2="277.3" y2="1104.2" stroke="#000" stroke-width="3" />
<text transform="translate(264.3,1117.51) scale(1,1.04)" font-size="40" font-weight="bold" text-anchor="end">0.0</text>
<rect x="306.4" y="784.7" width="28.6" height="20.4" fill="#fff" stroke="#000" stroke-width="3"/>
<rect x="306.4" y="816.6" width="28.6" height="20.6" fill="#A2A1A6" stroke="#000" stroke-width="3"/>
<text transform="translate(343.34,806.8) scale(1,1.06)" font-size="30.6">Air</text>
<text transform="translate(343.06,837.6) scale(1,1.06)" font-size="30.6">O<tspan font-size="22" dy="5.75">3</tspan></text>
<text transform="translate(34.8,749.4) scale(1,1.04)" font-size="60.5" font-weight="bold">C</text>
<text transform="translate(328.5,1138.8) scale(1,1.04)" font-size="30.5" font-weight="bold" text-anchor="middle">SAL</text>
<line x1="404.5" y1="1109.8" x2="404.5" y2="1167.8" stroke="#000" stroke-width="1.7" stroke-dasharray="3 3"/>
<line x1="479.9" y1="1109.8" x2="479.9" y2="1167.8" stroke="#000" stroke-width="1.7" stroke-dasharray="3 3"/>
<line x1="555.2" y1="1109.8" x2="555.2" y2="1167.8" stroke="#000" stroke-width="1.7" stroke-dasharray="3 3"/>
<line x1="594.9" y1="1109.8" x2="594.9" y2="1167.8" stroke="#000" stroke-width="1.7" stroke-dasharray="3 3"/>
<line x1="669.6" y1="1109.8" x2="669.6" y2="1167.8" stroke="#000" stroke-width="1.7" stroke-dasharray="3 3"/>
<line x1="745" y1="1109.8" x2="745" y2="1167.8" stroke="#000" stroke-width="1.7" stroke-dasharray="3 3"/>
<line x1="403.3" y1="1173.9" x2="555.8" y2="1173.9" stroke="#000" stroke-width="4" />
<line x1="594.3" y1="1173.9" x2="746.5" y2="1173.9" stroke="#000" stroke-width="4" />
<text transform="translate(442.2,1135.1) scale(1,1.04)" font-size="26" font-weight="bold" text-anchor="middle" fill="#55A0FF">0.004</text>
<text transform="translate(442.2,1161.7) scale(1,0.93)" font-size="23" font-weight="bold" text-anchor="middle" fill="#55A0FF">mg/kg</text>
<text transform="translate(517.55,1135.1) scale(1,1.04)" font-size="26" font-weight="bold" text-anchor="middle" fill="#0000FF">0.02</text>
<text transform="translate(517.55,1161.7) scale(1,0.93)" font-size="23" font-weight="bold" text-anchor="middle" fill="#0000FF">mg/kg</text>
<text transform="translate(632.25,1135.1) scale(1,1.04)" font-size="26" font-weight="bold" text-anchor="middle" fill="#FF4040">0.02</text>
<text transform="translate(632.25,1161.7) scale(1,0.93)" font-size="23" font-weight="bold" text-anchor="middle" fill="#FF4040">mg/kg</text>
<text transform="translate(707.3,1135.1) scale(1,1.04)" font-size="26" font-weight="bold" text-anchor="middle" fill="#A00000">0.1</text>
<text transform="translate(707.3,1161.7) scale(1,0.93)" font-size="23" font-weight="bold" text-anchor="middle" fill="#A00000">mg/kg</text>
<text transform="translate(480.2,1206.8) scale(1,1.04)" font-size="30.6" font-weight="bold" text-anchor="middle">CLEN</text>
<text transform="translate(671.2,1206.8) scale(1,1.04)" font-size="30.6" font-weight="bold" text-anchor="middle">DEX</text>
<text transform="translate(139.6,933.4) rotate(-90) scale(1,1.04)" font-size="39.3" font-weight="bold" text-anchor="middle">Thymus weight (mg) <tspan font-weight="normal">/</tspan></text>
<text transform="translate(185.5,933.6) rotate(-90) scale(1,1.04)" font-size="39.3" font-weight="bold" text-anchor="middle">Body weight (g)</text>
<text transform="translate(688.1,925.89) scale(1,1.04)" font-size="27.7" font-weight="bold" text-anchor="middle" stroke="#000" stroke-width="0.75">‡</text>
<text transform="translate(688.1,955.89) scale(1,1.04)" font-size="27.7" font-weight="bold" text-anchor="middle" stroke="#000" stroke-width="0.75">†</text>
<text transform="translate(726.6,938.99) scale(1,1.04)" font-size="27.7" font-weight="bold" text-anchor="middle" stroke="#000" stroke-width="0.75">‡</text>
<text transform="translate(726.6,969.29) scale(1,1.04)" font-size="27.7" font-weight="bold" text-anchor="middle" stroke="#000" stroke-width="0.75">†</text>
<line x1="1089.6" y1="910.3" x2="1089.6" y2="897.2" stroke="#000" stroke-width="3" />
<line x1="1082.1" y1="897.2" x2="1097.1" y2="897.2" stroke="#000" stroke-width="3" />
<rect x="1076.35" y="912.55" width="26.5" height="195.05" fill="#fff" stroke="#000" stroke-width="4.5"/>
<line x1="1128.5" y1="935" x2="1128.5" y2="930.1" stroke="#000" stroke-width="3" />
<line x1="1121" y1="930.1" x2="1136" y2="930.1" stroke="#000" stroke-width="3" />
<rect x="1115.25" y="937.25" width="26.5" height="170.35" fill="#A2A1A6" stroke="#000" stroke-width="4.5"/>
<line x1="1206" y1="916.4" x2="1206" y2="909.8" stroke="#000" stroke-width="3" />
<line x1="1198.5" y1="909.8" x2="1213.5" y2="909.8" stroke="#000" stroke-width="3" />
<rect x="1192.75" y="918.65" width="26.5" height="188.95" fill="#fff" stroke="#55A0FF" stroke-width="4.5"/>
<line x1="1244.3" y1="933.2" x2="1244.3" y2="926.3" stroke="#000" stroke-width="3" />
<line x1="1236.8" y1="926.3" x2="1251.8" y2="926.3" stroke="#000" stroke-width="3" />
<rect x="1231.05" y="935.45" width="26.5" height="172.15" fill="#A2A1A6" stroke="#55A0FF" stroke-width="4.5"/>
<line x1="1282.8" y1="906.7" x2="1282.8" y2="897.5" stroke="#000" stroke-width="3" />
<line x1="1275.3" y1="897.5" x2="1290.3" y2="897.5" stroke="#000" stroke-width="3" />
<rect x="1269.55" y="908.95" width="26.5" height="198.65" fill="#fff" stroke="#0000FF" stroke-width="4.5"/>
<line x1="1321.4" y1="936.5" x2="1321.4" y2="928.1" stroke="#000" stroke-width="3" />
<line x1="1313.9" y1="928.1" x2="1328.9" y2="928.1" stroke="#000" stroke-width="3" />
<rect x="1308.15" y="938.75" width="26.5" height="168.85" fill="#A2A1A6" stroke="#0000FF" stroke-width="4.5"/>
<line x1="1398.4" y1="963.5" x2="1398.4" y2="957.9" stroke="#000" stroke-width="3" />
<line x1="1390.9" y1="957.9" x2="1405.9" y2="957.9" stroke="#000" stroke-width="3" />
<rect x="1385.15" y="965.75" width="26.5" height="141.85" fill="#fff" stroke="#FF4040" stroke-width="4.5"/>
<line x1="1436.9" y1="967.4" x2="1436.9" y2="962" stroke="#000" stroke-width="3" />
<line x1="1429.4" y1="962" x2="1444.4" y2="962" stroke="#000" stroke-width="3" />
<rect x="1423.65" y="969.65" width="26.5" height="137.95" fill="#A2A1A6" stroke="#FF4040" stroke-width="4.5"/>
<line x1="1475.6" y1="991" x2="1475.6" y2="984.7" stroke="#000" stroke-width="3" />
<line x1="1468.1" y1="984.7" x2="1483.1" y2="984.7" stroke="#000" stroke-width="3" />
<rect x="1462.35" y="993.25" width="26.5" height="114.35" fill="#fff" stroke="#A00000" stroke-width="4.5"/>
<line x1="1514.9" y1="995.2" x2="1514.9" y2="992" stroke="#000" stroke-width="3" />
<line x1="1507.4" y1="992" x2="1522.4" y2="992" stroke="#000" stroke-width="3" />
<rect x="1501.65" y="997.45" width="26.5" height="110.15" fill="#A2A1A6" stroke="#A00000" stroke-width="4.5"/>
<line x1="1058" y1="780" x2="1058" y2="1109.1" stroke="#000" stroke-width="3" />
<line x1="1056.5" y1="1107.6" x2="1548" y2="1107.6" stroke="#000" stroke-width="3" />
<line x1="1050" y1="781" x2="1058" y2="781" stroke="#000" stroke-width="3" />
<text transform="translate(1045,794.81) scale(1,1.04)" font-size="40" font-weight="bold" text-anchor="end">4</text>
<line x1="1050" y1="863" x2="1058" y2="863" stroke="#000" stroke-width="3" />
<text transform="translate(1045,876.81) scale(1,1.04)" font-size="40" font-weight="bold" text-anchor="end">3</text>
<line x1="1050" y1="945" x2="1058" y2="945" stroke="#000" stroke-width="3" />
<text transform="translate(1045,958.81) scale(1,1.04)" font-size="40" font-weight="bold" text-anchor="end">2</text>
<line x1="1050" y1="1026.6" x2="1058" y2="1026.6" stroke="#000" stroke-width="3" />
<text transform="translate(1045,1040.41) scale(1,1.04)" font-size="40" font-weight="bold" text-anchor="end">1</text>
<line x1="1050" y1="1107.6" x2="1058" y2="1107.6" stroke="#000" stroke-width="3" />
<text transform="translate(1045,1121.41) scale(1,1.04)" font-size="40" font-weight="bold" text-anchor="end">0</text>
<rect x="1087.3" y="783.4" width="28.5" height="20.9" fill="#fff" stroke="#000" stroke-width="3"/>
<rect x="1087.3" y="815.8" width="28.5" height="21.1" fill="#A2A1A6" stroke="#000" stroke-width="3"/>
<text transform="translate(1124.44,805.8) scale(1,1.06)" font-size="31">Air</text>
<text transform="translate(1124.64,836.5) scale(1,1.06)" font-size="31">O<tspan font-size="22" dy="6.32">3</tspan></text>
<text transform="translate(831.3,749) scale(1,1.04)" font-size="60.5" font-weight="bold">D</text>
<text transform="translate(1109.6,1143.2) scale(1,1.04)" font-size="30.5" font-weight="bold" text-anchor="middle">SAL</text>
<line x1="1186.9" y1="1114.3" x2="1186.9" y2="1174.3" stroke="#000" stroke-width="1.7" stroke-dasharray="3 3"/>
<line x1="1263.4" y1="1114.3" x2="1263.4" y2="1174.3" stroke="#000" stroke-width="1.7" stroke-dasharray="3 3"/>
<line x1="1340" y1="1114.3" x2="1340" y2="1174.3" stroke="#000" stroke-width="1.7" stroke-dasharray="3 3"/>
<line x1="1380.4" y1="1114.3" x2="1380.4" y2="1174.3" stroke="#000" stroke-width="1.7" stroke-dasharray="3 3"/>
<line x1="1456.4" y1="1114.3" x2="1456.4" y2="1174.3" stroke="#000" stroke-width="1.7" stroke-dasharray="3 3"/>
<line x1="1532.9" y1="1114.3" x2="1532.9" y2="1174.3" stroke="#000" stroke-width="1.7" stroke-dasharray="3 3"/>
<line x1="1185.3" y1="1179" x2="1339.9" y2="1179" stroke="#000" stroke-width="4" />
<line x1="1379.8" y1="1179" x2="1533.7" y2="1179" stroke="#000" stroke-width="4" />
<text transform="translate(1225.15,1139.5) scale(1,1.04)" font-size="26" font-weight="bold" text-anchor="middle" fill="#55A0FF">0.004</text>
<text transform="translate(1225.15,1168.1) scale(1,0.93)" font-size="23" font-weight="bold" text-anchor="middle" fill="#55A0FF">mg/kg</text>
<text transform="translate(1301.7,1139.5) scale(1,1.04)" font-size="26" font-weight="bold" text-anchor="middle" fill="#0000FF">0.02</text>
<text transform="translate(1301.7,1168.1) scale(1,0.93)" font-size="23" font-weight="bold" text-anchor="middle" fill="#0000FF">mg/kg</text>
<text transform="translate(1418.4,1139.5) scale(1,1.04)" font-size="26" font-weight="bold" text-anchor="middle" fill="#FF4040">0.02</text>
<text transform="translate(1418.4,1168.1) scale(1,0.93)" font-size="23" font-weight="bold" text-anchor="middle" fill="#FF4040">mg/kg</text>
<text transform="translate(1494.65,1139.5) scale(1,1.04)" font-size="26" font-weight="bold" text-anchor="middle" fill="#A00000">0.1</text>
<text transform="translate(1494.65,1168.1) scale(1,0.93)" font-size="23" font-weight="bold" text-anchor="middle" fill="#A00000">mg/kg</text>
<text transform="translate(1263.5,1211.7) scale(1,1.04)" font-size="30.6" font-weight="bold" text-anchor="middle">CLEN</text>
<text transform="translate(1457.8,1211.7) scale(1,1.04)" font-size="30.6" font-weight="bold" text-anchor="middle">DEX</text>
<text transform="translate(952,933.4) rotate(-90) scale(1,1.04)" font-size="40.2" font-weight="bold" text-anchor="middle">Spleen weight (mg) <tspan font-weight="normal">/</tspan></text>
<text transform="translate(998.7,934.5) rotate(-90) scale(1,1.04)" font-size="40.1" font-weight="bold" text-anchor="middle">Body weight (g)</text>
<text transform="translate(1398.4,948.79) scale(1,1.04)" font-size="27.7" font-weight="bold" text-anchor="middle" stroke="#000" stroke-width="0.75">†</text>
<text transform="translate(1436.9,953.49) scale(1,1.04)" font-size="27.7" font-weight="bold" text-anchor="middle" stroke="#000" stroke-width="0.75">†</text>
<text transform="translate(1475.6,945.89) scale(1,1.04)" font-size="27.7" font-weight="bold" text-anchor="middle" stroke="#000" stroke-width="0.75">‡</text>
<text transform="translate(1475.6,975.19) scale(1,1.04)" font-size="27.7" font-weight="bold" text-anchor="middle" stroke="#000" stroke-width="0.75">†</text>
<text transform="translate(1514.9,956.09) scale(1,1.04)" font-size="27.7" font-weight="bold" text-anchor="middle" stroke="#000" stroke-width="0.75">‡</text>
<text transform="translate(1514.9,986.09) scale(1,1.04)" font-size="27.7" font-weight="bold" text-anchor="middle" stroke="#000" stroke-width="0.75">†</text>
<line x1="719.5" y1="1445.4" x2="719.5" y2="1434.3" stroke="#000" stroke-width="3" />
<line x1="712" y1="1434.3" x2="727" y2="1434.3" stroke="#000" stroke-width="3" />
<rect x="706.25" y="1447.65" width="26.5" height="218.35" fill="#fff" stroke="#000" stroke-width="4.5"/>
<line x1="758.4" y1="1550.8" x2="758.4" y2="1544" stroke="#000" stroke-width="3" />
<line x1="750.9" y1="1544" x2="765.9" y2="1544" stroke="#000" stroke-width="3" />
<rect x="745.15" y="1553.05" width="26.5" height="112.95" fill="#A2A1A6" stroke="#000" stroke-width="4.5"/>
<line x1="835.2" y1="1454.8" x2="835.2" y2="1432.7" stroke="#000" stroke-width="3" />
<line x1="827.7" y1="1432.7" x2="842.7" y2="1432.7" stroke="#000" stroke-width="3" />
<rect x="821.95" y="1457.05" width="26.5" height="208.95" fill="#fff" stroke="#55A0FF" stroke-width="4.5"/>
<line x1="873.8" y1="1548.3" x2="873.8" y2="1536.2" stroke="#000" stroke-width="3" />
<line x1="866.3" y1="1536.2" x2="881.3" y2="1536.2" stroke="#000" stroke-width="3" />
<rect x="860.55" y="1550.55" width="26.5" height="115.45" fill="#A2A1A6" stroke="#55A0FF" stroke-width="4.5"/>
<line x1="912.5" y1="1413.6" x2="912.5" y2="1401.5" stroke="#000" stroke-width="3" />
<line x1="905" y1="1401.5" x2="920" y2="1401.5" stroke="#000" stroke-width="3" />
<rect x="899.25" y="1415.85" width="26.5" height="250.15" fill="#fff" stroke="#0000FF" stroke-width="4.5"/>
<line x1="951.2" y1="1547.5" x2="951.2" y2="1536.8" stroke="#000" stroke-width="3" />
<line x1="943.7" y1="1536.8" x2="958.7" y2="1536.8" stroke="#000" stroke-width="3" />
<rect x="937.95" y="1549.75" width="26.5" height="116.25" fill="#A2A1A6" stroke="#0000FF" stroke-width="4.5"/>
<line x1="1028.4" y1="1601.5" x2="1028.4" y2="1590.9" stroke="#000" stroke-width="3" />
<line x1="1020.9" y1="1590.9" x2="1035.9" y2="1590.9" stroke="#000" stroke-width="3" />
<rect x="1015.15" y="1603.75" width="26.5" height="62.25" fill="#fff" stroke="#FF4040" stroke-width="4.5"/>
<line x1="1066.9" y1="1607.4" x2="1066.9" y2="1601.3" stroke="#000" stroke-width="3" />
<line x1="1059.4" y1="1601.3" x2="1074.4" y2="1601.3" stroke="#000" stroke-width="3" />
<rect x="1053.65" y="1609.65" width="26.5" height="56.35" fill="#A2A1A6" stroke="#FF4040" stroke-width="4.5"/>
<line x1="1105.6" y1="1630" x2="1105.6" y2="1625.1" stroke="#000" stroke-width="3" />
<line x1="1098.1" y1="1625.1" x2="1113.1" y2="1625.1" stroke="#000" stroke-width="3" />
<rect x="1092.35" y="1632.25" width="26.5" height="33.75" fill="#fff" stroke="#A00000" stroke-width="4.5"/>
<line x1="1144.3" y1="1633.6" x2="1144.3" y2="1630.3" stroke="#000" stroke-width="3" />
<line x1="1136.8" y1="1630.3" x2="1151.8" y2="1630.3" stroke="#000" stroke-width="3" />
<rect x="1131.05" y="1635.85" width="26.5" height="30.15" fill="#A2A1A6" stroke="#A00000" stroke-width="4.5"/>
<line x1="688" y1="1338" x2="688" y2="1667.5" stroke="#000" stroke-width="3" />
<line x1="686.5" y1="1666" x2="1178" y2="1666" stroke="#000" stroke-width="3" />
<line x1="680" y1="1339.3" x2="688" y2="1339.3" stroke="#000" stroke-width="3" />
<text transform="translate(675,1353.61) scale(1,1.04)" font-size="40" font-weight="bold" text-anchor="end">5</text>
<line x1="680" y1="1405" x2="688" y2="1405" stroke="#000" stroke-width="3" />
<text transform="translate(675,1419.31) scale(1,1.04)" font-size="40" font-weight="bold" text-anchor="end">4</text>
<line x1="680" y1="1470.6" x2="688" y2="1470.6" stroke="#000" stroke-width="3" />
<text transform="translate(675,1484.91) scale(1,1.04)" font-size="40" font-weight="bold" text-anchor="end">3</text>
<line x1="680" y1="1536" x2="688" y2="1536" stroke="#000" stroke-width="3" />
<text transform="translate(675,1550.31) scale(1,1.04)" font-size="40" font-weight="bold" text-anchor="end">2</text>
<line x1="680" y1="1601.3" x2="688" y2="1601.3" stroke="#000" stroke-width="3" />
<text transform="translate(675,1615.61) scale(1,1.04)" font-size="40" font-weight="bold" text-anchor="end">1</text>
<line x1="680" y1="1666" x2="688" y2="1666" stroke="#000" stroke-width="3" />
<text transform="translate(675,1680.31) scale(1,1.04)" font-size="40" font-weight="bold" text-anchor="end">0</text>
<rect x="716.4" y="1341.7" width="29.4" height="21.5" fill="#fff" stroke="#000" stroke-width="3"/>
<rect x="716.4" y="1374.4" width="29.4" height="20.9" fill="#A2A1A6" stroke="#000" stroke-width="3"/>
<text transform="translate(754.14,1364.7) scale(1,1.06)" font-size="31">Air</text>
<text transform="translate(753.84,1395.4) scale(1,1.06)" font-size="31">O<tspan font-size="22" dy="6.04">3</tspan></text>
<text transform="translate(505.2,1343.2) scale(1,1.04)" font-size="60.5" font-weight="bold">E</text>
<text transform="translate(739,1702.3) scale(1,1.04)" font-size="30.5" font-weight="bold" text-anchor="middle">SAL</text>
<line x1="816.6" y1="1672.7" x2="816.6" y2="1731.3" stroke="#000" stroke-width="1.7" stroke-dasharray="3 3"/>
<line x1="892.9" y1="1672.7" x2="892.9" y2="1731.3" stroke="#000" stroke-width="1.7" stroke-dasharray="3 3"/>
<line x1="969.1" y1="1672.7" x2="969.1" y2="1731.3" stroke="#000" stroke-width="1.7" stroke-dasharray="3 3"/>
<line x1="1009.7" y1="1672.7" x2="1009.7" y2="1731.3" stroke="#000" stroke-width="1.7" stroke-dasharray="3 3"/>
<line x1="1086.6" y1="1672.7" x2="1086.6" y2="1731.3" stroke="#000" stroke-width="1.7" stroke-dasharray="3 3"/>
<line x1="1162.8" y1="1672.7" x2="1162.8" y2="1731.3" stroke="#000" stroke-width="1.7" stroke-dasharray="3 3"/>
<line x1="815" y1="1737.4" x2="969.6" y2="1737.4" stroke="#000" stroke-width="4" />
<line x1="1009.7" y1="1737.4" x2="1164.3" y2="1737.4" stroke="#000" stroke-width="4" />
<text transform="translate(854.75,1698) scale(1,1.04)" font-size="26" font-weight="bold" text-anchor="middle" fill="#55A0FF">0.004</text>
<text transform="translate(854.75,1726.7) scale(1,0.93)" font-size="23" font-weight="bold" text-anchor="middle" fill="#55A0FF">mg/kg</text>
<text transform="translate(931,1698) scale(1,1.04)" font-size="26" font-weight="bold" text-anchor="middle" fill="#0000FF">0.02</text>
<text transform="translate(931,1726.7) scale(1,0.93)" font-size="23" font-weight="bold" text-anchor="middle" fill="#0000FF">mg/kg</text>
<text transform="translate(1048.15,1698) scale(1,1.04)" font-size="26" font-weight="bold" text-anchor="middle" fill="#FF4040">0.02</text>
<text transform="translate(1048.15,1726.7) scale(1,0.93)" font-size="23" font-weight="bold" text-anchor="middle" fill="#FF4040">mg/kg</text>
<text transform="translate(1124.7,1698) scale(1,1.04)" font-size="26" font-weight="bold" text-anchor="middle" fill="#A00000">0.1</text>
<text transform="translate(1124.7,1726.7) scale(1,0.93)" font-size="23" font-weight="bold" text-anchor="middle" fill="#A00000">mg/kg</text>
<text transform="translate(893.6,1771) scale(1,1.04)" font-size="30.6" font-weight="bold" text-anchor="middle">CLEN</text>
<text transform="translate(1086.5,1771) scale(1,1.04)" font-size="30.6" font-weight="bold" text-anchor="middle">DEX</text>
<text transform="translate(525.1,1493.5) rotate(-90) scale(1,1.04)" font-size="40.8" font-weight="bold" text-anchor="middle">Circulating</text>
<text transform="translate(572.9,1492.5) rotate(-90) scale(1,1.04)" font-size="39.8" font-weight="bold" text-anchor="middle">Lymphocytes</text>
<text transform="translate(628.5,1494) rotate(-90) scale(1,1.04)" font-size="40.6" font-weight="bold" text-anchor="middle">(10<tspan font-size="26" dy="-21">6</tspan><tspan dy="21">)/ml</tspan></text>
<text transform="translate(1028.4,1582.19) scale(1,1.04)" font-size="27.7" font-weight="bold" text-anchor="middle" stroke="#000" stroke-width="0.75">†</text>
<text transform="translate(1066.9,1590.49) scale(1,1.04)" font-size="27.7" font-weight="bold" text-anchor="middle" stroke="#000" stroke-width="0.75">†</text>
<text transform="translate(1105.6,1586.49) scale(1,1.04)" font-size="27.7" font-weight="bold" text-anchor="middle" stroke="#000" stroke-width="0.75">‡</text>
<text transform="translate(1105.6,1616.69) scale(1,1.04)" font-size="27.7" font-weight="bold" text-anchor="middle" stroke="#000" stroke-width="0.75">†</text>
<text transform="translate(1144.3,1591.39) scale(1,1.04)" font-size="27.7" font-weight="bold" text-anchor="middle" stroke="#000" stroke-width="0.75">‡</text>
<text transform="translate(1144.3,1623.49) scale(1,1.04)" font-size="27.7" font-weight="bold" text-anchor="middle" stroke="#000" stroke-width="0.75">†</text>
<text transform="translate(758.3,1555.38) scale(1,1.04)" font-size="52" font-weight="bold" text-anchor="middle">*</text>
<text transform="translate(873.8,1546.18) scale(1,1.04)" font-size="52" font-weight="bold" text-anchor="middle">*</text>
<text transform="translate(952,1546.18) scale(1,1.04)" font-size="52" font-weight="bold" text-anchor="middle">*</text>
</svg></body></html>
